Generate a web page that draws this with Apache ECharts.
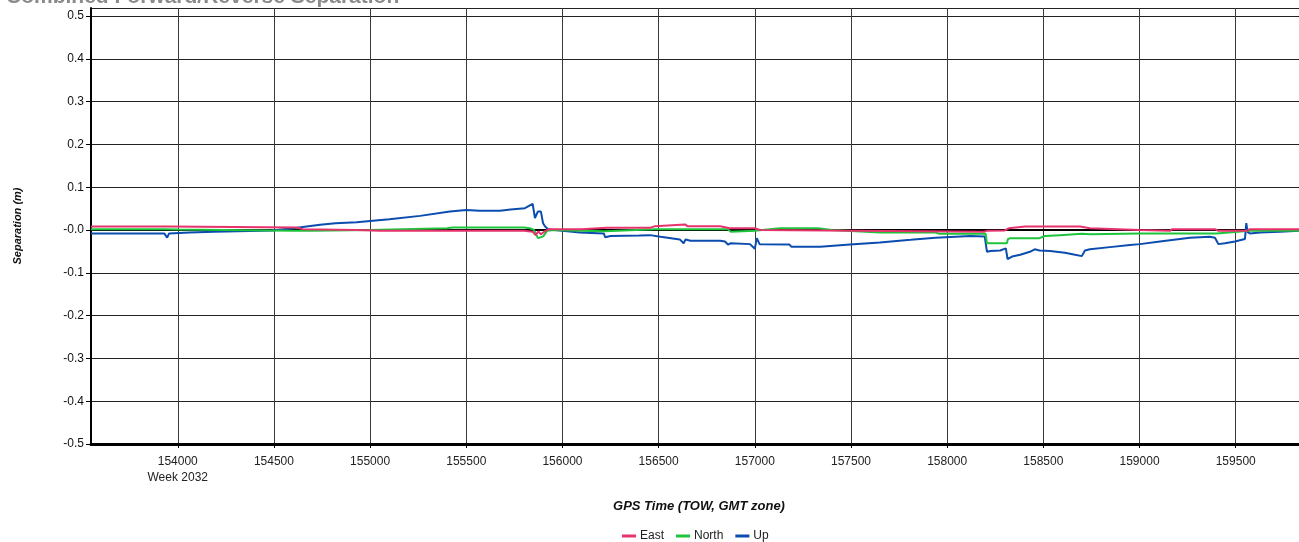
<!DOCTYPE html>
<html>
<head>
<meta charset="utf-8">
<script src="https://cdn.jsdelivr.net/npm/echarts@6/dist/echarts.min.js"></script>
<style>html,body{margin:0;padding:0;background:#fff}#c{width:1299px;height:542px}</style>
</head>
<body>
<div id="c"></div>
<script>
const titleText = 'Combined Forward/Reverse Separation';
const xName = 'GPS Time (TOW, GMT zone)';
const yName = 'Separation (m)';
const seriesNames = ['East', 'North', 'Up'];
const weekLabel = 'Week 2032';
const weekTick = 154000;

const eastData = [[153549,0.008],[153950,0.008],[153960,0.006],[154620,0.006],[154650,0.002],[154930,0],[155050,-0.002],[155800,-0.002],[155845,-0.004],[155860,-0.012],[155875,-0.003],[155888,-0.010],[155905,-0.004],[155930,0.002],[156100,0.002],[156230,0.005],[156455,0.005],[156481,0.009],[156637,0.013],[156650,0.009],[156820,0.009],[156870,0.004],[157000,0.004],[157027,0],[158190,-0.004],[158207,-0.002],[158300,-0.001],[158320,0.004],[158405,0.008],[158690,0.008],[158742,0.004],[159000,0],[159158,-0.002],[159170,0.002],[159392,0.002],[159410,-0.002],[159560,-0.002],[159574,0.002],[159829,0.002]];

const northData = [[153549,0.002],[153930,0.002],[154000,0.001],[154600,-0.002],[154700,-0.002],[155000,0],[155400,0.004],[155430,0.006],[155800,0.006],[155830,0.004],[155850,0.001],[155873,-0.019],[155900,-0.015],[155920,-0.002],[155960,0],[156090,-0.002],[156220,-0.003],[156480,0.002],[156860,0.002],[156875,-0.004],[157000,-0.002],[157130,0.004],[157330,0.004],[157400,0],[157650,-0.006],[157940,-0.006],[157960,-0.009],[158200,-0.009],[158207,-0.031],[158310,-0.031],[158316,-0.021],[158330,-0.019],[158480,-0.019],[158508,-0.014],[158586,-0.012],[158700,-0.009],[158742,-0.010],[159000,-0.008],[159160,-0.008],[159400,-0.008],[159410,-0.006],[159574,-0.002],[159829,-0.002]];

const upData = [[153549,-0.008],[153930,-0.008],[153945,-0.018],[153955,-0.008],[154060,-0.006],[154190,-0.004],[154490,-0.001],[154620,0.005],[154740,0.012],[154820,0.016],[154930,0.018],[155000,0.021],[155100,0.025],[155260,0.033],[155415,0.043],[155500,0.047],[155570,0.045],[155675,0.045],[155730,0.048],[155805,0.051],[155845,0.061],[155857,0.028],[155872,0.043],[155888,0.043],[155899,0.016],[155910,0.008],[155925,0.002],[155960,0],[156090,-0.006],[156215,-0.008],[156222,-0.017],[156250,-0.014],[156400,-0.013],[156455,-0.012],[156510,-0.016],[156610,-0.022],[156630,-0.031],[156640,-0.022],[156665,-0.025],[156820,-0.025],[156845,-0.027],[156860,-0.034],[156875,-0.031],[156975,-0.033],[157000,-0.044],[157010,-0.019],[157025,-0.033],[157180,-0.034],[157190,-0.039],[157340,-0.039],[157495,-0.034],[157650,-0.029],[157810,-0.023],[157940,-0.018],[158120,-0.014],[158195,-0.015],[158207,-0.051],[158225,-0.049],[158275,-0.048],[158305,-0.043],[158314,-0.068],[158337,-0.062],[158380,-0.058],[158430,-0.051],[158455,-0.045],[158480,-0.048],[158535,-0.049],[158612,-0.053],[158665,-0.058],[158700,-0.061],[158716,-0.048],[158742,-0.045],[158846,-0.040],[158950,-0.035],[159002,-0.033],[159106,-0.027],[159262,-0.018],[159366,-0.016],[159392,-0.018],[159410,-0.033],[159444,-0.031],[159496,-0.027],[159548,-0.021],[159555,0.016],[159562,-0.005],[159574,-0.008],[159626,-0.006],[159730,-0.004],[159829,-0.002]];

const xMin = 153549, xMax = 159829;
const yMin = -0.5, yMax = 0.5187;
const colors = ['#e6336c', '#1ec43c', '#0b4caf'];
const font = 'Liberation Sans, Arial, sans-serif';

const chart = echarts.init(document.getElementById('c'), null, {renderer: 'canvas'});
chart.setOption({
  animation: false,
  title: {
    text: titleText, left: 1, top: -18,
    textStyle: {fontFamily: font, fontSize: 21, fontWeight: 'bold', color: '#8a8a8a'}
  },
  legend: {
    top: 525, left: 617, icon: 'rect', itemWidth: 14, itemHeight: 3, itemGap: 12,
    data: seriesNames,
    textStyle: {fontFamily: font, fontSize: 12, color: '#222', padding: [0, 0, 0, -1]}
  },
  grid: {left: 91, right: 0, top: 8, bottom: 98, containLabel: false},
  xAxis: [{
    type: 'value', min: xMin, max: xMax, splitNumber: 12, minInterval: 500, maxInterval: 500,
    name: xName, nameLocation: 'middle', nameGap: 56,
    nameTextStyle: {fontFamily: font, fontSize: 13, fontWeight: 'bold', fontStyle: 'italic', color: '#111', padding: [0, 0, 0, 8]},
    axisLine: {show: true, onZero: false, lineStyle: {color: '#000', width: 3}},
    axisTick: {show: true, length: 4, lineStyle: {color: '#000'}},
    axisLabel: {
      showMinLabel: false, showMaxLabel: false, margin: 10,
      fontFamily: font, fontSize: 12, color: '#222', lineHeight: 16,
      formatter: v => v === weekTick ? v + '\n' + weekLabel : String(v)
    },
    splitLine: {show: true, lineStyle: {color: '#3a3a3a', width: 1}}
  }, {
    type: 'value', position: 'top', min: xMin, max: xMax,
    axisLine: {show: true, lineStyle: {color: '#000', width: 2}},
    axisTick: {show: false}, axisLabel: {show: false}, splitLine: {show: false}
  }],
  yAxis: {
    type: 'value', min: yMin, max: yMax, interval: 0.1,
    name: yName, nameLocation: 'middle', nameGap: 68,
    nameTextStyle: {fontFamily: font, fontSize: 11, fontWeight: 'bold', fontStyle: 'italic', color: '#111'},
    axisLine: {show: true, onZero: false, lineStyle: {color: '#000', width: 2}},
    axisTick: {show: true, length: 5, lineStyle: {color: '#000'}},
    axisLabel: {
      showMaxLabel: false, margin: 7,
      fontFamily: font, fontSize: 12, color: '#111',
      formatter: v => { const r = Math.round(v * 10) / 10; return Math.abs(r) < 1e-9 ? '-0.0' : r.toFixed(1); }
    },
    splitLine: {show: true, lineStyle: {color: '#222', width: 1}}
  },
  series: [
    {name: seriesNames[0], type: 'line', data: eastData, showSymbol: false, z: 4, color: colors[0], lineStyle: {width: 2}},
    {name: seriesNames[1], type: 'line', data: northData, showSymbol: false, z: 3, color: colors[1], lineStyle: {width: 2}},
    {name: seriesNames[2], type: 'line', data: upData, showSymbol: false, z: 2, color: colors[2], lineStyle: {width: 2}}
  ]
});
</script>
</body>
</html>
